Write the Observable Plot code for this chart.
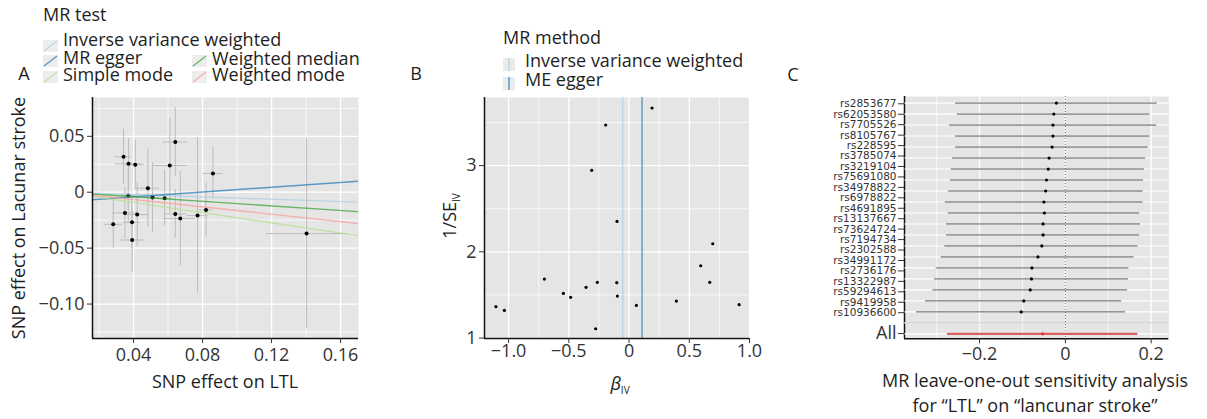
<!DOCTYPE html>
<html><head><meta charset="utf-8">
<script src="https://cdn.jsdelivr.net/npm/d3@7"></script>
<script src="https://cdn.jsdelivr.net/npm/@observablehq/plot@0.6"></script>
<style>
html,body{margin:0;padding:0;background:#fff;}
#root{position:relative;width:1207px;height:419px;overflow:hidden;font-family:"Open Sans",sans-serif;color:#1e1e1e;}
#root > svg{position:absolute;left:0;top:0;}
.t{position:absolute;white-space:nowrap;font-size:18px;line-height:1;transform:translate(-50%,-50%);}
.l{position:absolute;white-space:nowrap;font-size:18px;line-height:0.8;transform:translate(0,-50%);}
.rot{transform:translate(-50%,-50%) rotate(-90deg);}
.k{position:absolute;}
sub{font-size:10px;vertical-align:-4px;line-height:0;}
</style></head><body><div id="root"></div>
<script>
// ---------------- Panel A : scatter ----------------
const A_bx  = [0.0282,0.0342,0.0350,0.0369,0.0371,0.0391,0.0392,0.0410,0.0421,0.0483,0.0510,0.0580,0.0610,0.0642,0.0642,0.0671,0.0771,0.0820,0.0860,0.1403];
const A_by  = [-0.0287,0.0317,-0.0185,-0.0030,0.0254,-0.0269,-0.0427,0.0246,-0.0200,0.0036,-0.0047,-0.0054,0.0239,0.0448,-0.0195,-0.0236,-0.0209,-0.0158,0.0168,-0.0370];
const A_sex = [0.0051,0.0049,0.0072,0.0050,0.0075,0.0048,0.0070,0.0053,0.0063,0.0068,0.0044,0.0044,0.0101,0.0071,0.0063,0.0089,0.0060,0.0040,0.0058,0.0233];
const A_sey = [0.0213,0.0247,0.0231,0.0248,0.0225,0.0232,0.0287,0.0223,0.0286,0.0350,0.0310,0.0246,0.0427,0.0307,0.0218,0.0423,0.0696,0.0236,0.0234,0.0850];
const A_methods   = ["Inverse variance weighted","MR egger","Simple mode","Weighted median","Weighted mode"];
const A_colors    = ["#a6cee3","#1f78b4","#b2df8a","#33a02c","#fb9a99"];
const A_slope     = [-0.052,0.108,-0.228,-0.102,-0.164];
const A_intercept = [0,-0.0085,0,0,0];
const A_xticks = [0.04,0.08,0.12,0.16];
const A_yticks = [-0.10,-0.05,0,0.05];
const A_xminor = [0.02,0.06,0.10,0.14];
const A_yminor = [-0.125,-0.075,-0.025,0.025,0.075];
const A_xdomain = [0.0162,0.1704];
const A_ydomain = [-0.1308,0.0847];

// ---------------- Panel B : funnel ----------------
const B_beta  = [-1.105,-1.035,-0.703,-0.545,-0.485,-0.357,-0.310,-0.277,-0.263,-0.194,-0.100,-0.102,-0.097,0.061,0.191,0.393,0.595,0.670,0.695,0.914];
const B_invse = [1.364,1.321,1.684,1.518,1.472,1.588,2.945,1.108,1.646,3.471,2.353,1.642,1.487,1.379,3.668,1.429,1.839,1.646,2.094,1.387];
const B_methods = ["Inverse variance weighted","ME egger"];
const B_colors  = ["#a6cee3","#1f78b4"];
const B_est     = [-0.052,0.108];
const B_xticks = [-1,-0.5,0,0.5,1];
const B_yticks = [1,2,3];
const B_xminor = [-0.75,-0.25,0.25,0.75];
const B_yminor = [1.5,2.5,3.5];
const B_xdomain = [-1.2,1.0];
const B_ydomain = [0.995,3.79];

// ---------------- Panel C : leave-one-out ----------------
const C_labels = ["rs2853677","rs62053580","rs7705526","rs8105767","rs228595","rs3785074","rs3219104","rs75691080","rs34978822","rs6978822","rs4691895","rs13137667","rs73624724","rs7194734","rs2302588","rs34991172","rs2736176","rs13322987","rs59294613","rs9419958","rs10936600"];
const C_b  = [-0.021,-0.027,-0.029,-0.029,-0.031,-0.038,-0.040,-0.044,-0.046,-0.050,-0.049,-0.052,-0.052,-0.055,-0.064,-0.078,-0.079,-0.082,-0.097,-0.103];
const C_lo = [-0.256,-0.252,-0.270,-0.256,-0.256,-0.263,-0.266,-0.268,-0.272,-0.280,-0.273,-0.277,-0.277,-0.281,-0.289,-0.301,-0.305,-0.309,-0.326,-0.347];
const C_hi = [0.214,0.197,0.213,0.197,0.193,0.187,0.184,0.182,0.181,0.181,0.173,0.175,0.173,0.169,0.160,0.148,0.147,0.145,0.131,0.140];
const C_all = {b:-0.053, lo:-0.275, hi:0.169};
const C_xticks = [-0.2,0,0.2];
const C_xminor = [-0.3,-0.1,0.1];
const C_xdomain = [-0.375,0.241];

const W = 1207, H = 419, BG = "#e5e5e5", FONT = "'Open Sans', sans-serif";
const root = document.getElementById("root");
const common = {width:W, height:H, style:{background:"transparent", fontFamily:FONT, overflow:"visible"}};
const white = (w) => ({stroke:"#fff", strokeOpacity:1, strokeWidth:w});
const fmtSigned = (p) => (d) => d === 0 ? "0" : d3.format(p)(d);
const axisStyle = {fontSize:18, color:"#333", tickSize:5};

// ----- Panel A plot -----
const A_pts = A_bx.map((x,i) => ({bx:x, by:A_by[i], sex:A_sex[i], sey:A_sey[i]}));
const A_lines = A_methods.flatMap((m,i) => A_xdomain.map(x => ({method:m, x, y:A_intercept[i] + A_slope[i]*x})));
const plotA = Plot.plot({...common,
  marginLeft:92, marginRight:W-358, marginTop:97, marginBottom:H-338,
  x:{domain:A_xdomain, label:null}, y:{domain:A_ydomain, label:null},
  color:{domain:A_methods, range:A_colors},
  marks:[
    Plot.frame({fill:BG, stroke:null}),
    Plot.gridX(A_xminor, white(0.7)), Plot.gridY(A_yminor, white(0.7)),
    Plot.gridX(A_xticks, white(1.3)), Plot.gridY(A_yticks, white(1.3)),
    Plot.ruleX(A_pts, {x:"bx", y1:d=>d.by-d.sey, y2:d=>d.by+d.sey, stroke:"#bcbcbc", strokeWidth:1, clip:true}),
    Plot.ruleY(A_pts, {y:"by", x1:d=>d.bx-d.sex, x2:d=>d.bx+d.sex, stroke:"#bcbcbc", strokeWidth:1, clip:true}),
    Plot.dot(A_pts, {x:"bx", y:"by", r:2, fill:"#000", stroke:null}),
    Plot.line(A_lines, {x:"x", y:"y", z:"method", stroke:"method", strokeWidth:1.4, strokeOpacity:0.7, clip:true}),
    Plot.ruleX([A_xdomain[0]], {stroke:"#111", strokeWidth:1.5}),
    Plot.ruleY([A_ydomain[0]], {stroke:"#111", strokeWidth:1.5}),
    Plot.axisX(A_xticks, {...axisStyle, tickFormat:d3.format(".2f"), tickPadding:5}),
    Plot.axisY(A_yticks, {...axisStyle, tickFormat:fmtSigned(".2f"), tickPadding:3})
  ]});
root.appendChild(plotA);

// ----- Panel B plot -----
const B_pts = B_beta.map((b,i) => ({beta:b, invse:B_invse[i]}));
const B_lines = B_methods.map((m,i) => ({method:m, est:B_est[i]}));
const plotB = Plot.plot({...common,
  marginLeft:484, marginRight:W-749, marginTop:97, marginBottom:H-338,
  x:{domain:B_xdomain, label:null}, y:{domain:B_ydomain, label:null},
  color:{domain:B_methods, range:B_colors},
  marks:[
    Plot.frame({fill:BG, stroke:null}),
    Plot.gridX(B_xminor, white(0.7)), Plot.gridY(B_yminor, white(0.7)),
    Plot.gridX(B_xticks, white(1.3)), Plot.gridY(B_yticks, white(1.3)),
    Plot.dot(B_pts, {x:"beta", y:"invse", r:1.6, fill:"#000", stroke:null}),
    Plot.ruleX(B_lines, {x:"est", stroke:"method", strokeWidth:1.4, strokeOpacity:0.7}),
    Plot.ruleX([B_xdomain[0]], {stroke:"#111", strokeWidth:1.5}),
    Plot.ruleY([B_ydomain[0]], {stroke:"#111", strokeWidth:1.5}),
    Plot.axisX(B_xticks, {...axisStyle, tickFormat:fmtSigned(".1f"), tickPadding:1}),
    Plot.axisY(B_yticks, {...axisStyle, tickFormat:d3.format("d"), tickPadding:3})
  ]});
root.appendChild(plotB);

// ----- Panel C plots (labels layer + data layer) -----
const C_mt = 96, C_mb = H-338.3, C_ml = 904, C_mr = W-1168.3;
const C_labelIdx = C_labels.map((_,i) => i);
const C_allLabelIdx = C_labels.length + 1;
const plotC1 = Plot.plot({...common,
  marginLeft:C_ml, marginRight:C_mr, marginTop:C_mt, marginBottom:C_mb,
  x:{domain:C_xdomain, label:null}, y:{domain:[C_allLabelIdx+0.5,-0.7], label:null},
  marks:[
    Plot.frame({fill:BG, stroke:null}),
    Plot.gridX(C_xminor, white(0.7)),
    Plot.gridX(C_xticks, white(1.3)),
    Plot.ruleX([C_xdomain[0]], {stroke:"#111", strokeWidth:1.5}),
    Plot.ruleY([C_allLabelIdx+0.5], {stroke:"#111", strokeWidth:1.5}),
    Plot.axisX(C_xticks, {...axisStyle, tickFormat:fmtSigned(".1f"), tickPadding:3}),
    Plot.axisY(C_labelIdx, {tickFormat:i => C_labels[i], fontSize:10.5, fontFamily:"DejaVu Sans", color:"#333", tickSize:6, tickPadding:2}),
    Plot.axisY([C_allLabelIdx], {tickFormat:() => "All", fontSize:18, color:"#333", tickSize:6, tickPadding:2})
  ]});
root.appendChild(plotC1);

const C_rows = C_b.map((b,i) => ({row:i, b, lo:C_lo[i], hi:C_hi[i], tot:false}));
const C_blank = C_rows.length;
C_rows.push({row:C_blank+1, b:C_all.b, lo:C_all.lo, hi:C_all.hi, tot:true});
const plotC2 = Plot.plot({...common,
  marginLeft:C_ml, marginRight:C_mr, marginTop:C_mt, marginBottom:C_mb,
  x:{domain:C_xdomain, label:null, axis:null}, y:{domain:[C_blank+1.45,-0.6], label:null, axis:null},
  marks:[
    Plot.gridY(d3.range(C_blank+2), {...white(1.1), x1:C_xdomain[0]+0.001}),
    Plot.ruleX([0], {stroke:"#555", strokeWidth:0.8, strokeDasharray:"1,2"}),
    Plot.ruleY(C_rows.filter(d=>!d.tot), {y:"row", x1:"lo", x2:"hi", stroke:"#5a5a5a", strokeWidth:1}),
    Plot.ruleY(C_rows.filter(d=>d.tot), {y:"row", x1:"lo", x2:"hi", stroke:"#de5f5f", strokeWidth:2.2}),
    Plot.dot(C_rows, {x:"b", y:"row", r:1.6, fill:d=>d.tot?"#de3a3a":"#000", stroke:null}),
    Plot.ruleY([C_blank], {stroke:"#c4c4c4", strokeWidth:1})
  ]});
root.appendChild(plotC2);

// ----- titles, legends, panel letters -----
function txt(cls, x, y, html) {
  const d = document.createElement("div");
  d.className = cls; d.style.left = x+"px"; d.style.top = y+"px";
  d.innerHTML = html; root.appendChild(d); return d;
}
function keyDiag(x, y, color) {
  const d = document.createElement("div"); d.className = "k";
  d.style.left = x+"px"; d.style.top = y+"px";
  d.innerHTML = `<svg width="15" height="12"><rect width="15" height="12" fill="#ededed"/><line x1="1" y1="11" x2="14" y2="1" stroke="${color}" stroke-opacity="0.75" stroke-width="1.2"/></svg>`;
  root.appendChild(d);
}
function keyVert(x, y, color) {
  const d = document.createElement("div"); d.className = "k";
  d.style.left = x+"px"; d.style.top = y+"px";
  d.innerHTML = `<svg width="12" height="13"><rect width="12" height="13" fill="#ebebeb"/><line x1="6" y1="0" x2="6" y2="13" stroke="${color}" stroke-opacity="0.75" stroke-width="1.4"/></svg>`;
  root.appendChild(d);
}
// Panel A legend
txt("l", 43, 14, "MR test");
const A_legPos = [[43,38.5,40.5],[43,57,55.5],[43,73.5,72],[192,58,55.5],[192,73.5,72]];
A_methods.forEach((m,i) => { const [x,ty,ky] = A_legPos[i]; keyDiag(x, ky-6, A_colors[i]); txt("l", x+20, ty, m); });
// Panel B legend
txt("l", 503, 36.5, "MR method");
const B_legPos = [[503,59.5,60.5],[503,78.5,79]];
B_methods.forEach((m,i) => { const [x,ty,ky] = B_legPos[i]; keyVert(x, ky-6.5, B_colors[i]); txt("l", x+22, ty, m); });
// Panel letters
txt("t", 24, 73, "A"); txt("t", 416, 73, "B"); txt("t", 793, 74, "C");
// Axis titles
txt("t", 225, 381, "SNP effect on LTL");
txt("t rot", 18, 218, "SNP effect on Lacunar stroke");
txt("t", 620, 383, "<i>β</i><sub>IV</sub>");
txt("t rot", 449, 216, "1/SE<sub>IV</sub>");
txt("t", 1035, 380, "MR leave-one-out sensitivity analysis");
txt("t", 1035, 405, "for “LTL” on “lancunar stroke”");
</script></body></html>
